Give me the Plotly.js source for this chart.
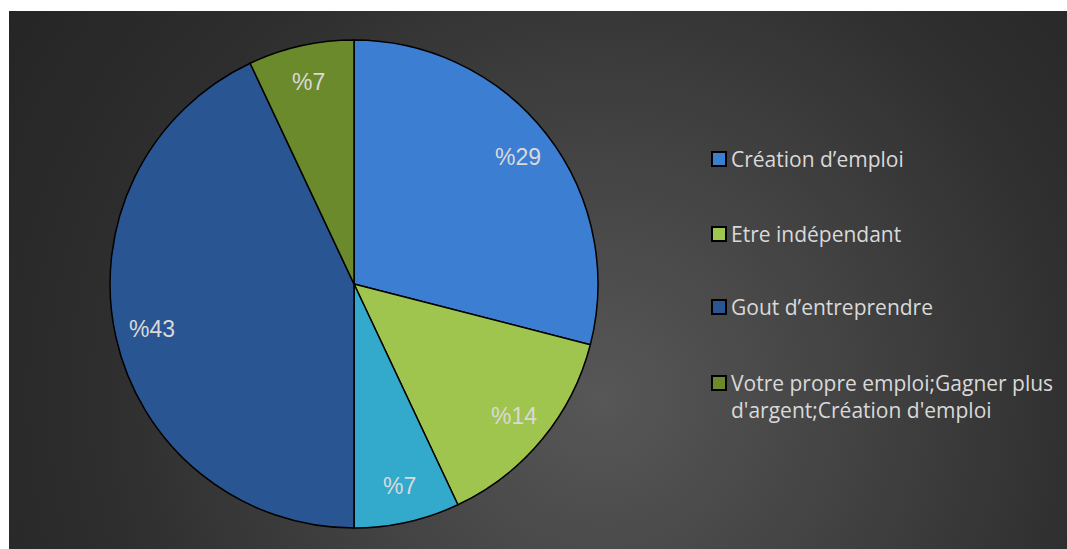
<!DOCTYPE html>
<html>
<head>
<meta charset="utf-8">
<script src="https://cdn.plot.ly/plotly-3.0.1.min.js"></script>
<style>
  html, body { margin: 0; padding: 0; background: #ffffff; }
  #wrap { position: absolute; left: 9px; top: 11px; width: 1058px; height: 538px;
    background: radial-gradient(circle farthest-corner at 56% 72%, #575757 0%, #434343 35%, #2e2e2e 70%, #252525 100%); }
  #chart { width: 1058px; height: 538px; }
</style>
</head>
<body>
<div id="wrap"><div id="chart"></div></div>
<script>
// Slice data (clockwise from 12 o'clock)
const sliceLabels = [
  "Création d’emploi",
  "Etre indépendant",
  "(sans nom)",
  "Gout d’entreprendre",
  "Votre propre emploi;Gagner plus<br>d'argent;Création d'emploi"
];
const sliceValues = [29, 14, 7, 43, 7];
const sliceColors = ["#3c7ed2", "#9fc54e", "#33a9cc", "#2a5593", "#6a8a2b"];
// Legend entries shown (index into slices) - the cyan slice has no legend entry
const legendIdx = [0, 1, 3, 4];

const textColor = "#d9d9d9";
const W = 1058, H = 538;
const domain = { x: [0.0955, 0.5567], y: [0.039, 0.946] };

const pie = {
  type: "pie",
  labels: sliceLabels,
  values: sliceValues,
  textinfo: "none",
  sort: false,
  direction: "clockwise",
  rotation: 0,
  hoverinfo: "label+percent",
  marker: { colors: sliceColors, line: { color: "#000000", width: 1.5 } },
  domain: domain,
  showlegend: false
};

const shapes = [], annotations = [];

// Data labels placed near the outer part of each slice (Excel "inside end"-like),
// positions derived from the cumulative slice values
const total = sliceValues.reduce((a, b) => a + b, 0);
const cx = (domain.x[0] + domain.x[1]) / 2, cy = (domain.y[0] + domain.y[1]) / 2;
const rPx = Math.min((domain.x[1] - domain.x[0]) * W, (domain.y[1] - domain.y[0]) * H) / 2;
const labelRadius = 0.85;
let cum = 0;
sliceValues.forEach(v => {
  const mid = (cum + v / 2) / total * 2 * Math.PI;
  cum += v;
  annotations.push({
    xref: "paper", yref: "paper",
    x: cx + labelRadius * rPx * Math.sin(mid) / W,
    y: cy + labelRadius * rPx * Math.cos(mid) / H,
    xanchor: "center", yanchor: "middle", showarrow: false,
    text: "%" + v,
    font: { family: "Liberation Sans, Arial, sans-serif", size: 23, color: textColor }
  });
});

// Manual legend
const legendY = [132, 207, 280, 356]; // top of each entry in px (div coords)
legendIdx.forEach((si, k) => {
  const yTop = legendY[k];
  const sqTop = yTop + 9, sqSize = 14, sqLeft = 703;
  shapes.push({
    type: "rect", xref: "paper", yref: "paper",
    x0: sqLeft / W, x1: (sqLeft + sqSize) / W,
    y0: 1 - (sqTop + sqSize) / H, y1: 1 - sqTop / H,
    fillcolor: sliceColors[si], line: { color: "#000000", width: 2 }
  });
  annotations.push({
    xref: "paper", yref: "paper", x: 720 / W, y: 1 - yTop / H,
    xanchor: "left", yanchor: "top", align: "left", showarrow: false,
    text: sliceLabels[si],
    font: { family: "Open Sans, sans-serif", size: 21, color: textColor }
  });
});

const layout = {
  width: W, height: H,
  margin: { l: 0, r: 0, t: 0, b: 0 },
  paper_bgcolor: "rgba(0,0,0,0)",
  plot_bgcolor: "rgba(0,0,0,0)",
  showlegend: false,
  shapes: shapes,
  annotations: annotations
};

Plotly.newPlot("chart", [pie], layout, { displayModeBar: false });
</script>
</body>
</html>
